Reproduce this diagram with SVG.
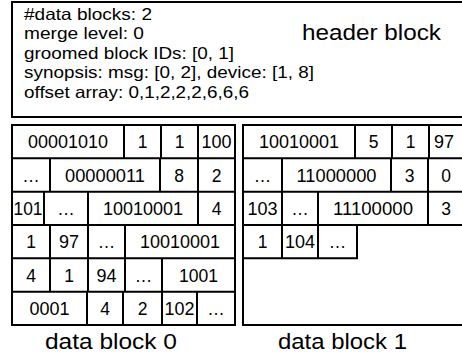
<svg xmlns="http://www.w3.org/2000/svg" width="462" height="353" viewBox="0 0 462 353">
<style>
  .box { fill: #fff; stroke: #000; stroke-width: 2; }
  .ln { stroke: #000; stroke-width: 2; fill: none; }
  .t { font-family: "Liberation Sans", Arial, sans-serif; font-size: 16.5px; fill: #000; }
  .c { font-family: "Liberation Sans", Arial, sans-serif; font-size: 17.5px; fill: #000; text-anchor: middle; }
  .big { font-family: "Liberation Sans", Arial, sans-serif; font-size: 21.5px; fill: #000; }
</style>
<rect width="462" height="353" fill="#fff"/>

<g id="header-block">
  <rect class="box" x="12" y="2" width="455" height="115"/>
  <text class="t" x="24" y="19.5" textLength="128" lengthAdjust="spacingAndGlyphs">#data blocks: 2</text>
  <text class="t" x="24" y="39" textLength="120" lengthAdjust="spacingAndGlyphs">merge level: 0</text>
  <text class="t" x="24" y="58.5" textLength="210" lengthAdjust="spacingAndGlyphs">groomed block IDs: [0, 1]</text>
  <text class="t" x="24" y="78" textLength="290" lengthAdjust="spacingAndGlyphs">synopsis: msg: [0, 2], device: [1, 8]</text>
  <text class="t" x="24" y="97.5" textLength="225" lengthAdjust="spacingAndGlyphs">offset array: 0,1,2,2,2,6,6,6</text>
  <text class="big" x="302" y="39.5" textLength="139" lengthAdjust="spacingAndGlyphs">header block</text>
</g>

<g id="data-block-0">
  <rect class="box" x="12" y="125" width="223" height="200"/>
  <path class="ln" d="M12 158.3H235M12 191.7H235M12 225H235M12 258.3H235M12 291.7H235"/>
  <!-- row 0 -->
  <path class="ln" d="M124 125V158.3M161 125V158.3M198 125V158.3"/>
  <text class="c" x="68" y="148" textLength="80" lengthAdjust="spacingAndGlyphs">00001010</text>
  <text class="c" x="142.5" y="148">1</text>
  <text class="c" x="179.5" y="148">1</text>
  <text class="c" x="216.5" y="148" textLength="30" lengthAdjust="spacingAndGlyphs">100</text>
  <!-- row 1 -->
  <path class="ln" d="M50 158.3V191.7M160 158.3V191.7M198 158.3V191.7"/>
  <text class="c" x="31" y="181.5">…</text>
  <text class="c" x="105" y="181.5" textLength="80" lengthAdjust="spacingAndGlyphs">00000011</text>
  <text class="c" x="179" y="181.5">8</text>
  <text class="c" x="216.5" y="181.5">2</text>
  <!-- row 2 -->
  <path class="ln" d="M44 191.7V225M88 191.7V225M198 191.7V225"/>
  <text class="c" x="28" y="214.5" textLength="29" lengthAdjust="spacingAndGlyphs">101</text>
  <text class="c" x="66" y="214.5">…</text>
  <text class="c" x="143" y="214.5" textLength="80" lengthAdjust="spacingAndGlyphs">10010001</text>
  <text class="c" x="216.5" y="214.5">4</text>
  <!-- row 3 -->
  <path class="ln" d="M50 225V258.3M88 225V258.3M125 225V258.3"/>
  <text class="c" x="31" y="248">1</text>
  <text class="c" x="69" y="248" textLength="20" lengthAdjust="spacingAndGlyphs">97</text>
  <text class="c" x="106.5" y="248">…</text>
  <text class="c" x="180" y="248" textLength="80" lengthAdjust="spacingAndGlyphs">10010001</text>
  <!-- row 4 -->
  <path class="ln" d="M50 258.3V291.7M88 258.3V291.7M125 258.3V291.7M162 258.3V291.7"/>
  <text class="c" x="31" y="281.5">4</text>
  <text class="c" x="69" y="281.5">1</text>
  <text class="c" x="106.5" y="281.5" textLength="20" lengthAdjust="spacingAndGlyphs">94</text>
  <text class="c" x="143.5" y="281.5">…</text>
  <text class="c" x="198.5" y="281.5" textLength="39" lengthAdjust="spacingAndGlyphs">1001</text>
  <!-- row 5 -->
  <path class="ln" d="M87 291.7V325M123 291.7V325M162 291.7V325M197 291.7V325"/>
  <text class="c" x="49.5" y="314.5" textLength="40" lengthAdjust="spacingAndGlyphs">0001</text>
  <text class="c" x="105" y="314.5">4</text>
  <text class="c" x="142.5" y="314.5">2</text>
  <text class="c" x="179.5" y="314.5" textLength="30" lengthAdjust="spacingAndGlyphs">102</text>
  <text class="c" x="216" y="314.5">…</text>
</g>

<g id="data-block-1">
  <rect class="box" x="243" y="125" width="224" height="200"/>
  <path class="ln" d="M243 158.3H467M243 191.7H467M243 225H467M243 258.3H357V225"/>
  <!-- row 0 -->
  <path class="ln" d="M355 125V158.3M392 125V158.3M429 125V158.3"/>
  <text class="c" x="299" y="148" textLength="80" lengthAdjust="spacingAndGlyphs">10010001</text>
  <text class="c" x="373.5" y="148">5</text>
  <text class="c" x="410.5" y="148">1</text>
  <text class="c" x="444" y="148" textLength="20" lengthAdjust="spacingAndGlyphs">97</text>
  <!-- row 1 -->
  <path class="ln" d="M282 158.3V191.7M391 158.3V191.7M428 158.3V191.7"/>
  <text class="c" x="262.5" y="181.5">…</text>
  <text class="c" x="336.5" y="181.5" textLength="80" lengthAdjust="spacingAndGlyphs">11000000</text>
  <text class="c" x="409.5" y="181.5">3</text>
  <text class="c" x="446" y="181.5">0</text>
  <!-- row 2 -->
  <path class="ln" d="M282 191.7V225M318 191.7V225M428 191.7V225"/>
  <text class="c" x="262.5" y="214.5" textLength="30" lengthAdjust="spacingAndGlyphs">103</text>
  <text class="c" x="300" y="214.5">…</text>
  <text class="c" x="373" y="214.5" textLength="80" lengthAdjust="spacingAndGlyphs">11100000</text>
  <text class="c" x="446" y="214.5">3</text>
  <!-- row 3 -->
  <path class="ln" d="M282 225V258.3M318 225V258.3"/>
  <text class="c" x="262.5" y="248">1</text>
  <text class="c" x="300" y="248" textLength="30" lengthAdjust="spacingAndGlyphs">104</text>
  <text class="c" x="337.5" y="248">…</text>
</g>

<g id="labels">
  <text class="big" x="45" y="349" textLength="132" lengthAdjust="spacingAndGlyphs">data block 0</text>
  <text class="big" x="278" y="349" textLength="129" lengthAdjust="spacingAndGlyphs">data block 1</text>
</g>
</svg>
